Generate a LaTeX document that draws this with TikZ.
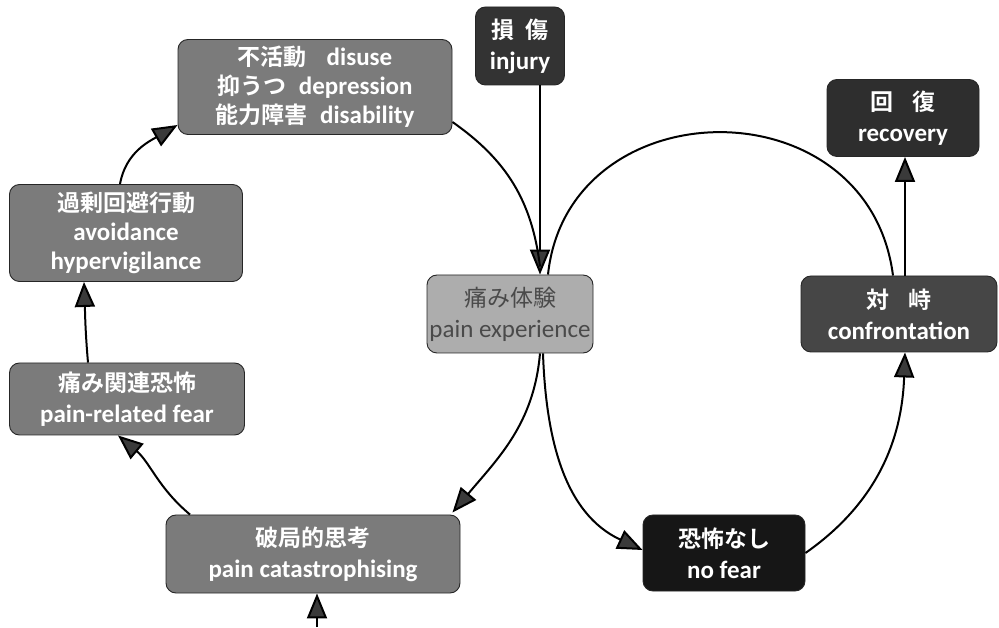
\documentclass[tikz,border=0pt]{standalone}
\usepackage{fontspec}
\setmainfont{Carlito}
\newfontfamily\jp{Noto Sans CJK JP}[BoldFont={Noto Sans CJK JP Bold}]
\newcommand\jtxt[1]{{\jp\fontsize{23}{29}\selectfont #1}}
\usetikzlibrary{arrows.meta}
\definecolor{gmid}{HTML}{7B7B7B}
\definecolor{glight}{HTML}{ADADAD}
\definecolor{gtext}{HTML}{4A4A4A}
\definecolor{ginj}{HTML}{333333}
\definecolor{grec}{HTML}{2E2E2E}
\definecolor{gcon}{HTML}{464646}
\definecolor{gnof}{HTML}{161616}
\definecolor{tipc}{HTML}{3A3A3A}
\begin{document}
\begin{tikzpicture}[x=1pt,y=1pt,
  box/.style={draw=black!85, line width=0.9pt, rounded corners=10pt, align=center,
    text=white, font=\bfseries\fontsize{25}{29}\selectfont, inner sep=0pt},
  two/.style={font=\bfseries\fontsize{25}{31}\selectfont},
  arr/.style={line width=2pt, black, -{Triangle[length=25pt,width=20pt,fill=tipc]}},
  ln/.style={line width=2pt, black}]
\useasboundingbox (0,0) rectangle (999,627);

\node[box, fill=gmid, minimum width=274pt, minimum height=95pt] (disuse) at (315,540)
  {\jtxt{不活動}\hspace{0.8em}disuse\\\jtxt{抑うつ}\hspace{0.5em}depression\\\jtxt{能力障害}\hspace{0.5em}disability};
\node[box, two, fill=ginj, minimum width=89pt, minimum height=78pt] (injury) at (520,581)
  {\jtxt{損\hspace{0.5em}傷}\\injury};
\node[box, fill=gmid, minimum width=233pt, minimum height=97pt] (avoid) at (126,394)
  {\jtxt{過剰回避行動}\\avoidance\\hypervigilance};
\node[box, two, fill=gmid, minimum width=235pt, minimum height=72pt] (fear) at (127,228)
  {\jtxt{痛み関連恐怖}\\pain-related fear};
\node[box, two, fill=gmid, minimum width=294pt, minimum height=78pt] (catast) at (313,73)
  {\jtxt{破局的思考}\\pain catastrophising};
\node[box, fill=glight, text=gtext, font=\fontsize{25}{31}\selectfont, minimum width=166pt, minimum height=78pt] (painexp) at (510,313)
  {{\jp\fontsize{23}{31}\selectfont 痛み体験}\\pain experience};
\node[box, two, fill=grec, minimum width=152pt, minimum height=77pt] (recovery) at (903,509)
  {\jtxt{回\hspace{0.8em}復}\\recovery};
\node[box, two, fill=gcon, minimum width=196pt, minimum height=76pt] (confront) at (899,313)
  {\jtxt{対\hspace{0.8em}峙}\\confrontation};
\node[box, two, fill=gnof, minimum width=162pt, minimum height=76pt] (nofear) at (724,74)
  {\jtxt{恐怖なし}\\no fear};
\coordinate (bot) at (317,0);

\draw[arr] ([xshift=20pt]injury.south) -- ([xshift=30pt]painexp.north);
\draw[ln] ([yshift=-35pt]disuse.east) to[out=-35,in=97] ([xshift=30pt,yshift=8pt]painexp.north);
\draw[arr] ([xshift=30pt]painexp.south) to[out=-95,in=50] ([xshift=-8pt,yshift=2pt]catast.north east);
\draw[arr] ([xshift=33pt]painexp.south) to[out=-88,in=155] ([yshift=3pt]nofear.west);
\draw[ln] ([xshift=38pt]painexp.north) .. controls (568,540) and (868,545) .. ([xshift=-6pt]confront.north);
\draw[arr] (nofear.east) to[out=35,in=-92] ([xshift=6pt]confront.south);
\draw[arr] ([xshift=6pt]confront.north) -- ([xshift=2pt]recovery.south);
\draw[arr] ([xshift=-123pt]catast.north) to[out=140,in=-40] ([xshift=-9pt]fear.south);
\draw[arr] ([xshift=-39pt]fear.north) to[out=95,in=-88] ([xshift=-42pt]avoid.south);
\draw[arr] ([xshift=-6pt]avoid.north) to[out=80,in=-150] ([yshift=-38pt]disuse.west);
\draw[arr] (bot) -- ([xshift=4pt]catast.south);
\end{tikzpicture}
\end{document}
